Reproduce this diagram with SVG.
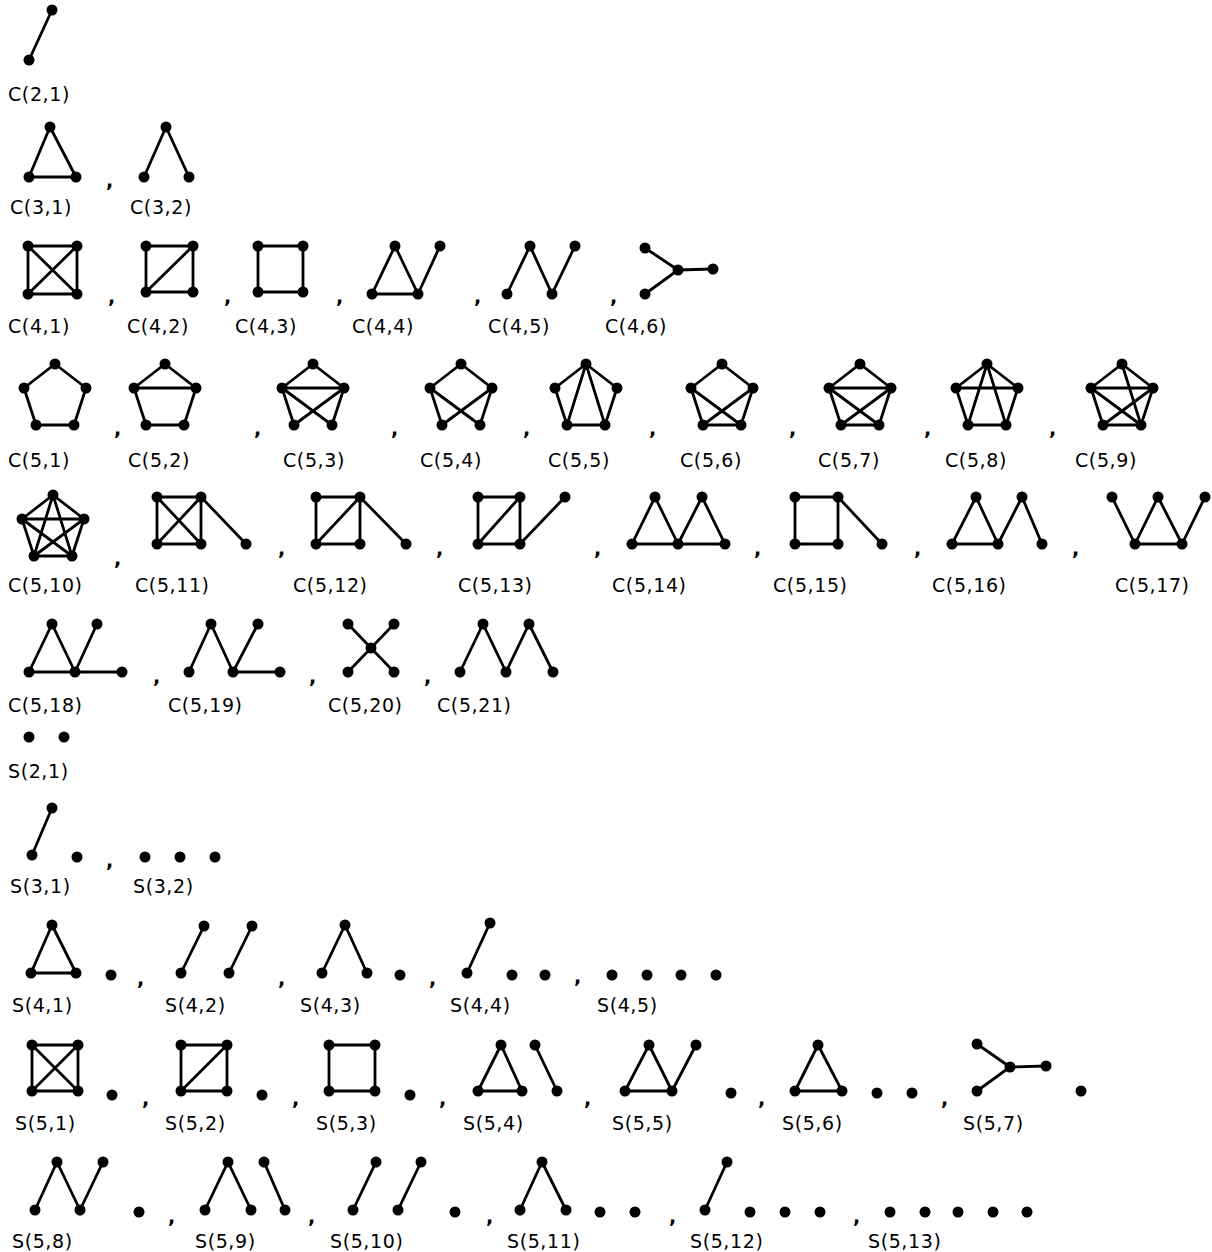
<svg xmlns="http://www.w3.org/2000/svg" width="1212" height="1252" viewBox="0 0 1212 1252">
<style>
.e{fill:none;stroke:#000;stroke-width:2.8;stroke-linecap:round;stroke-linejoin:round}
.v{fill:#000}
.l{font-family:"DejaVu Sans","Liberation Sans",sans-serif;font-size:19px;letter-spacing:0.6px;fill:#000}
.c{font-family:"DejaVu Sans","Liberation Sans",sans-serif;font-size:19px;font-weight:bold;fill:#000}
</style>
<rect width="1212" height="1252" fill="#fff"/>
<!-- C(2,1) -->
<g id="C2_1"><path class="e" d="M52 10L29 60"/><g class="v"><circle cx="52" cy="10" r="5.5"/><circle cx="29" cy="60" r="5.5"/></g><text class="l" x="8" y="101">C(2,1)</text></g>
<!-- C3 row -->
<g id="C3_1"><path class="e" d="M50 127L29 177L76 177Z"/><g class="v"><circle cx="50" cy="127" r="5.5"/><circle cx="29" cy="177" r="5.5"/><circle cx="76" cy="177" r="5.5"/></g><text class="l" x="10" y="214">C(3,1)</text></g>
<text class="c" x="106" y="187">,</text>
<g id="C3_2"><path class="e" d="M144 177L166 127L189 177"/><g class="v"><circle cx="166" cy="127" r="5.5"/><circle cx="144" cy="177" r="5.5"/><circle cx="189" cy="177" r="5.5"/></g><text class="l" x="130" y="214">C(3,2)</text></g>
<!-- C4 row -->
<g id="C4_1"><path class="e" d="M28 246H77V294H28Z M28 246L77 294 M77 246L28 294"/><g class="v"><circle cx="28" cy="246" r="5.5"/><circle cx="77" cy="246" r="5.5"/><circle cx="28" cy="294" r="5.5"/><circle cx="77" cy="294" r="5.5"/></g><text class="l" x="8" y="333">C(4,1)</text></g>
<text class="c" x="108" y="303">,</text>
<g id="C4_2"><path class="e" d="M146 246H193V292H146Z M146 292L193 246"/><g class="v"><circle cx="146" cy="246" r="5.5"/><circle cx="193" cy="246" r="5.5"/><circle cx="146" cy="292" r="5.5"/><circle cx="193" cy="292" r="5.5"/></g><text class="l" x="127" y="333">C(4,2)</text></g>
<text class="c" x="224" y="303">,</text>
<g id="C4_3"><path class="e" d="M258 246H303V292H258Z"/><g class="v"><circle cx="258" cy="246" r="5.5"/><circle cx="303" cy="246" r="5.5"/><circle cx="258" cy="292" r="5.5"/><circle cx="303" cy="292" r="5.5"/></g><text class="l" x="235" y="333">C(4,3)</text></g>
<text class="c" x="336" y="303">,</text>
<g id="C4_4"><path class="e" d="M372 294L395 246L418 294Z M418 294L440 246"/><g class="v"><circle cx="395" cy="246" r="5.5"/><circle cx="440" cy="246" r="5.5"/><circle cx="372" cy="294" r="5.5"/><circle cx="418" cy="294" r="5.5"/></g><text class="l" x="352" y="333">C(4,4)</text></g>
<text class="c" x="474" y="303">,</text>
<g id="C4_5"><path class="e" d="M507 294L530 246L552 294L575 246"/><g class="v"><circle cx="530" cy="246" r="5.5"/><circle cx="575" cy="246" r="5.5"/><circle cx="507" cy="294" r="5.5"/><circle cx="552" cy="294" r="5.5"/></g><text class="l" x="488" y="333">C(4,5)</text></g>
<text class="c" x="610" y="303">,</text>
<g id="C4_6"><path class="e" d="M645 248L678 270L645 294 M678 270L713 269"/><g class="v"><circle cx="645" cy="248" r="5.5"/><circle cx="678" cy="270" r="5.5"/><circle cx="713" cy="269" r="5.5"/><circle cx="645" cy="294" r="5.5"/></g><text class="l" x="605" y="333">C(4,6)</text></g>
<!-- C5 pentagons -->
<g id="C5_1"><path class="e" d="M55 364L86 388L74 425L36 425L24 388Z"/><g class="v"><circle cx="55" cy="364" r="5.5"/><circle cx="24" cy="388" r="5.5"/><circle cx="86" cy="388" r="5.5"/><circle cx="36" cy="425" r="5.5"/><circle cx="74" cy="425" r="5.5"/></g><text class="l" x="8" y="467">C(5,1)</text></g>
<text class="c" x="114" y="435">,</text>
<g id="C5_2"><path class="e" d="M165 364L196 388L184 425L146 425L134 388Z M134 388H196"/><g class="v"><circle cx="165" cy="364" r="5.5"/><circle cx="134" cy="388" r="5.5"/><circle cx="196" cy="388" r="5.5"/><circle cx="146" cy="425" r="5.5"/><circle cx="184" cy="425" r="5.5"/></g><text class="l" x="128" y="467">C(5,2)</text></g>
<text class="c" x="254" y="435">,</text>
<g id="C5_3"><path class="e" d="M294 425L282 388L313 364L344 388L332 425 M282 388H344 M282 388L332 425 M344 388L294 425"/><g class="v"><circle cx="313" cy="364" r="5.5"/><circle cx="282" cy="388" r="5.5"/><circle cx="344" cy="388" r="5.5"/><circle cx="294" cy="425" r="5.5"/><circle cx="332" cy="425" r="5.5"/></g><text class="l" x="283" y="467">C(5,3)</text></g>
<text class="c" x="391" y="435">,</text>
<g id="C5_4"><path class="e" d="M442 425L430 388L461 364L492 388L480 425 M430 388L480 425 M492 388L442 425"/><g class="v"><circle cx="461" cy="364" r="5.5"/><circle cx="430" cy="388" r="5.5"/><circle cx="492" cy="388" r="5.5"/><circle cx="442" cy="425" r="5.5"/><circle cx="480" cy="425" r="5.5"/></g><text class="l" x="420" y="467">C(5,4)</text></g>
<text class="c" x="523" y="435">,</text>
<g id="C5_5"><path class="e" d="M586 364L617 388L605 425L567 425L555 388Z M567 425L586 364L605 425"/><g class="v"><circle cx="586" cy="364" r="5.5"/><circle cx="555" cy="388" r="5.5"/><circle cx="617" cy="388" r="5.5"/><circle cx="567" cy="425" r="5.5"/><circle cx="605" cy="425" r="5.5"/></g><text class="l" x="548" y="467">C(5,5)</text></g>
<text class="c" x="649" y="435">,</text>
<g id="C5_6"><path class="e" d="M722 364L753 388L741 425L703 425L691 388Z M691 388L741 425 M753 388L703 425"/><g class="v"><circle cx="722" cy="364" r="5.5"/><circle cx="691" cy="388" r="5.5"/><circle cx="753" cy="388" r="5.5"/><circle cx="703" cy="425" r="5.5"/><circle cx="741" cy="425" r="5.5"/></g><text class="l" x="680" y="467">C(5,6)</text></g>
<text class="c" x="789" y="435">,</text>
<g id="C5_7"><path class="e" d="M860 364L891 388L879 425L841 425L829 388Z M829 388H891 M829 388L879 425 M891 388L841 425"/><g class="v"><circle cx="860" cy="364" r="5.5"/><circle cx="829" cy="388" r="5.5"/><circle cx="891" cy="388" r="5.5"/><circle cx="841" cy="425" r="5.5"/><circle cx="879" cy="425" r="5.5"/></g><text class="l" x="818" y="467">C(5,7)</text></g>
<text class="c" x="924" y="435">,</text>
<g id="C5_8"><path class="e" d="M987 364L1018 388L1006 425L968 425L956 388Z M956 388H1018 M968 425L987 364L1006 425"/><g class="v"><circle cx="987" cy="364" r="5.5"/><circle cx="956" cy="388" r="5.5"/><circle cx="1018" cy="388" r="5.5"/><circle cx="968" cy="425" r="5.5"/><circle cx="1006" cy="425" r="5.5"/></g><text class="l" x="945" y="467">C(5,8)</text></g>
<text class="c" x="1049" y="435">,</text>
<g id="C5_9"><path class="e" d="M1122 364L1153 388L1141 425L1103 425L1091 388Z M1091 388H1153 M1091 388L1141 425 M1153 388L1103 425 M1122 364L1141 425"/><g class="v"><circle cx="1122" cy="364" r="5.5"/><circle cx="1091" cy="388" r="5.5"/><circle cx="1153" cy="388" r="5.5"/><circle cx="1103" cy="425" r="5.5"/><circle cx="1141" cy="425" r="5.5"/></g><text class="l" x="1075" y="467">C(5,9)</text></g>
<!-- row 5 -->
<g id="C5_10"><path class="e" d="M53 495L84 519L72 556L34 556L22 519Z M22 519H84 M22 519L72 556 M84 519L34 556 M53 495L34 556 M53 495L72 556"/><g class="v"><circle cx="53" cy="495" r="5.5"/><circle cx="22" cy="519" r="5.5"/><circle cx="84" cy="519" r="5.5"/><circle cx="34" cy="556" r="5.5"/><circle cx="72" cy="556" r="5.5"/></g><text class="l" x="8" y="592">C(5,10)</text></g>
<text class="c" x="114" y="565">,</text>
<g id="C5_11"><path class="e" d="M157 497H201V544H157Z M157 497L201 544 M201 497L157 544 M201 497L246 544"/><g class="v"><circle cx="157" cy="497" r="5.5"/><circle cx="201" cy="497" r="5.5"/><circle cx="157" cy="544" r="5.5"/><circle cx="201" cy="544" r="5.5"/><circle cx="246" cy="544" r="5.5"/></g><text class="l" x="135" y="592">C(5,11)</text></g>
<text class="c" x="278" y="555">,</text>
<g id="C5_12"><path class="e" d="M316 497H360V544H316Z M316 544L360 497 M360 497L406 544"/><g class="v"><circle cx="316" cy="497" r="5.5"/><circle cx="360" cy="497" r="5.5"/><circle cx="316" cy="544" r="5.5"/><circle cx="360" cy="544" r="5.5"/><circle cx="406" cy="544" r="5.5"/></g><text class="l" x="293" y="592">C(5,12)</text></g>
<text class="c" x="436" y="555">,</text>
<g id="C5_13"><path class="e" d="M478 497H520V544H478Z M478 544L520 497 M520 544L565 497"/><g class="v"><circle cx="478" cy="497" r="5.5"/><circle cx="520" cy="497" r="5.5"/><circle cx="478" cy="544" r="5.5"/><circle cx="520" cy="544" r="5.5"/><circle cx="565" cy="497" r="5.5"/></g><text class="l" x="458" y="592">C(5,13)</text></g>
<text class="c" x="594" y="555">,</text>
<g id="C5_14"><path class="e" d="M632 544L655 497L678 544L702 497L725 544 M632 544H725"/><g class="v"><circle cx="655" cy="497" r="5.5"/><circle cx="702" cy="497" r="5.5"/><circle cx="632" cy="544" r="5.5"/><circle cx="678" cy="544" r="5.5"/><circle cx="725" cy="544" r="5.5"/></g><text class="l" x="612" y="592">C(5,14)</text></g>
<text class="c" x="754" y="555">,</text>
<g id="C5_15"><path class="e" d="M795 497H838V544H795Z M838 497L882 544"/><g class="v"><circle cx="795" cy="497" r="5.5"/><circle cx="838" cy="497" r="5.5"/><circle cx="795" cy="544" r="5.5"/><circle cx="838" cy="544" r="5.5"/><circle cx="882" cy="544" r="5.5"/></g><text class="l" x="773" y="592">C(5,15)</text></g>
<text class="c" x="914" y="555">,</text>
<g id="C5_16"><path class="e" d="M952 544L976 497L998 544L1022 497L1042 544 M952 544H998"/><g class="v"><circle cx="976" cy="497" r="5.5"/><circle cx="1022" cy="497" r="5.5"/><circle cx="952" cy="544" r="5.5"/><circle cx="998" cy="544" r="5.5"/><circle cx="1042" cy="544" r="5.5"/></g><text class="l" x="932" y="592">C(5,16)</text></g>
<text class="c" x="1072" y="555">,</text>
<g id="C5_17"><path class="e" d="M1112 497L1135 544L1158 497L1182 544L1205 497 M1135 544H1182"/><g class="v"><circle cx="1112" cy="497" r="5.5"/><circle cx="1158" cy="497" r="5.5"/><circle cx="1205" cy="497" r="5.5"/><circle cx="1135" cy="544" r="5.5"/><circle cx="1182" cy="544" r="5.5"/></g><text class="l" x="1115" y="592">C(5,17)</text></g>
<!-- row 6 -->
<g id="C5_18"><path class="e" d="M29 672L52 624L75 672L97 624 M29 672H122"/><g class="v"><circle cx="52" cy="624" r="5.5"/><circle cx="97" cy="624" r="5.5"/><circle cx="29" cy="672" r="5.5"/><circle cx="75" cy="672" r="5.5"/><circle cx="122" cy="672" r="5.5"/></g><text class="l" x="8" y="712">C(5,18)</text></g>
<text class="c" x="153" y="683">,</text>
<g id="C5_19"><path class="e" d="M189 672L211 624L233 672L258 624 M233 672H280"/><g class="v"><circle cx="211" cy="624" r="5.5"/><circle cx="258" cy="624" r="5.5"/><circle cx="189" cy="672" r="5.5"/><circle cx="233" cy="672" r="5.5"/><circle cx="280" cy="672" r="5.5"/></g><text class="l" x="168" y="712">C(5,19)</text></g>
<text class="c" x="309" y="683">,</text>
<g id="C5_20"><path class="e" d="M348 624L394 672 M394 624L348 672"/><g class="v"><circle cx="348" cy="624" r="5.5"/><circle cx="394" cy="624" r="5.5"/><circle cx="371" cy="648" r="5.5"/><circle cx="348" cy="672" r="5.5"/><circle cx="394" cy="672" r="5.5"/></g><text class="l" x="328" y="712">C(5,20)</text></g>
<text class="c" x="424" y="683">,</text>
<g id="C5_21"><path class="e" d="M460 672L483 624L506 672L529 624L553 672"/><g class="v"><circle cx="483" cy="624" r="5.5"/><circle cx="529" cy="624" r="5.5"/><circle cx="460" cy="672" r="5.5"/><circle cx="506" cy="672" r="5.5"/><circle cx="553" cy="672" r="5.5"/></g><text class="l" x="437" y="712">C(5,21)</text></g>
<!-- S section -->
<g id="S2_1"><g class="v"><circle cx="29" cy="737" r="5.5"/><circle cx="64" cy="737" r="5.5"/></g><text class="l" x="8" y="778">S(2,1)</text></g>
<g id="S3_1"><path class="e" d="M32 855L52 808"/><g class="v"><circle cx="52" cy="808" r="5.5"/><circle cx="32" cy="855" r="5.5"/><circle cx="77" cy="857" r="5.5"/></g><text class="l" x="10" y="893">S(3,1)</text></g>
<text class="c" x="106" y="867">,</text>
<g id="S3_2"><g class="v"><circle cx="145" cy="857" r="5.5"/><circle cx="180" cy="857" r="5.5"/><circle cx="215" cy="857" r="5.5"/></g><text class="l" x="133" y="893">S(3,2)</text></g>
<!-- S4 row -->
<g id="S4_1"><path class="e" d="M31 973L52 925L76 973Z"/><g class="v"><circle cx="52" cy="925" r="5.5"/><circle cx="31" cy="973" r="5.5"/><circle cx="76" cy="973" r="5.5"/><circle cx="111" cy="975" r="5.5"/></g><text class="l" x="12" y="1012">S(4,1)</text></g>
<text class="c" x="137" y="985">,</text>
<g id="S4_2"><path class="e" d="M181 973L204 926 M229 973L252 926"/><g class="v"><circle cx="204" cy="926" r="5.5"/><circle cx="181" cy="973" r="5.5"/><circle cx="252" cy="926" r="5.5"/><circle cx="229" cy="973" r="5.5"/></g><text class="l" x="165" y="1012">S(4,2)</text></g>
<text class="c" x="278" y="985">,</text>
<g id="S4_3"><path class="e" d="M322 973L345 925L367 973"/><g class="v"><circle cx="345" cy="925" r="5.5"/><circle cx="322" cy="973" r="5.5"/><circle cx="367" cy="973" r="5.5"/><circle cx="400" cy="975" r="5.5"/></g><text class="l" x="300" y="1012">S(4,3)</text></g>
<text class="c" x="429" y="985">,</text>
<g id="S4_4"><path class="e" d="M467 973L490 923"/><g class="v"><circle cx="490" cy="923" r="5.5"/><circle cx="467" cy="973" r="5.5"/><circle cx="512" cy="975" r="5.5"/><circle cx="545" cy="975" r="5.5"/></g><text class="l" x="450" y="1012">S(4,4)</text></g>
<text class="c" x="574" y="983">,</text>
<g id="S4_5"><g class="v"><circle cx="612" cy="975" r="5.5"/><circle cx="647" cy="975" r="5.5"/><circle cx="681" cy="975" r="5.5"/><circle cx="716" cy="975" r="5.5"/></g><text class="l" x="597" y="1012">S(4,5)</text></g>
<!-- S5 row A -->
<g id="S5_1"><path class="e" d="M32 1045H78V1091H32Z M32 1045L78 1091 M78 1045L32 1091"/><g class="v"><circle cx="32" cy="1045" r="5.5"/><circle cx="78" cy="1045" r="5.5"/><circle cx="32" cy="1091" r="5.5"/><circle cx="78" cy="1091" r="5.5"/><circle cx="112" cy="1095" r="5.5"/></g><text class="l" x="15" y="1130">S(5,1)</text></g>
<text class="c" x="142" y="1105">,</text>
<g id="S5_2"><path class="e" d="M181 1045H227V1091H181Z M181 1091L227 1045"/><g class="v"><circle cx="181" cy="1045" r="5.5"/><circle cx="227" cy="1045" r="5.5"/><circle cx="181" cy="1091" r="5.5"/><circle cx="227" cy="1091" r="5.5"/><circle cx="262" cy="1095" r="5.5"/></g><text class="l" x="165" y="1130">S(5,2)</text></g>
<text class="c" x="292" y="1105">,</text>
<g id="S5_3"><path class="e" d="M329 1045H375V1091H329Z"/><g class="v"><circle cx="329" cy="1045" r="5.5"/><circle cx="375" cy="1045" r="5.5"/><circle cx="329" cy="1091" r="5.5"/><circle cx="375" cy="1091" r="5.5"/><circle cx="410" cy="1095" r="5.5"/></g><text class="l" x="316" y="1130">S(5,3)</text></g>
<text class="c" x="439" y="1105">,</text>
<g id="S5_4"><path class="e" d="M478 1091L501 1045L522 1091Z M535 1045L557 1091"/><g class="v"><circle cx="501" cy="1045" r="5.5"/><circle cx="478" cy="1091" r="5.5"/><circle cx="522" cy="1091" r="5.5"/><circle cx="535" cy="1045" r="5.5"/><circle cx="557" cy="1091" r="5.5"/></g><text class="l" x="463" y="1130">S(5,4)</text></g>
<text class="c" x="584" y="1105">,</text>
<g id="S5_5"><path class="e" d="M625 1091L649 1045L672 1091Z M672 1091L696 1045"/><g class="v"><circle cx="649" cy="1045" r="5.5"/><circle cx="696" cy="1045" r="5.5"/><circle cx="625" cy="1091" r="5.5"/><circle cx="672" cy="1091" r="5.5"/><circle cx="731" cy="1093" r="5.5"/></g><text class="l" x="612" y="1130">S(5,5)</text></g>
<text class="c" x="758" y="1105">,</text>
<g id="S5_6"><path class="e" d="M795 1091L818 1045L842 1091Z"/><g class="v"><circle cx="818" cy="1045" r="5.5"/><circle cx="795" cy="1091" r="5.5"/><circle cx="842" cy="1091" r="5.5"/><circle cx="877" cy="1093" r="5.5"/><circle cx="912" cy="1093" r="5.5"/></g><text class="l" x="782" y="1130">S(5,6)</text></g>
<text class="c" x="941" y="1105">,</text>
<g id="S5_7"><path class="e" d="M977 1044L1010 1067L977 1091 M1010 1067L1046 1066"/><g class="v"><circle cx="977" cy="1044" r="5.5"/><circle cx="1010" cy="1067" r="5.5"/><circle cx="1046" cy="1066" r="5.5"/><circle cx="977" cy="1091" r="5.5"/><circle cx="1081" cy="1091" r="5.5"/></g><text class="l" x="963" y="1130">S(5,7)</text></g>
<!-- S5 row B -->
<g id="S5_8"><path class="e" d="M35 1210L57 1162L80 1210L103 1162"/><g class="v"><circle cx="57" cy="1162" r="5.5"/><circle cx="103" cy="1162" r="5.5"/><circle cx="35" cy="1210" r="5.5"/><circle cx="80" cy="1210" r="5.5"/><circle cx="139" cy="1212" r="5.5"/></g><text class="l" x="12" y="1248">S(5,8)</text></g>
<text class="c" x="168" y="1223">,</text>
<g id="S5_9"><path class="e" d="M205 1210L228 1162L251 1210 M264 1162L285 1210"/><g class="v"><circle cx="228" cy="1162" r="5.5"/><circle cx="205" cy="1210" r="5.5"/><circle cx="251" cy="1210" r="5.5"/><circle cx="264" cy="1162" r="5.5"/><circle cx="285" cy="1210" r="5.5"/></g><text class="l" x="195" y="1248">S(5,9)</text></g>
<text class="c" x="308" y="1223">,</text>
<g id="S5_10"><path class="e" d="M353 1210L376 1162 M398 1210L421 1162"/><g class="v"><circle cx="376" cy="1162" r="5.5"/><circle cx="353" cy="1210" r="5.5"/><circle cx="421" cy="1162" r="5.5"/><circle cx="398" cy="1210" r="5.5"/><circle cx="455" cy="1212" r="5.5"/></g><text class="l" x="330" y="1248">S(5,10)</text></g>
<text class="c" x="486" y="1223">,</text>
<g id="S5_11"><path class="e" d="M520 1210L542 1162L566 1210"/><g class="v"><circle cx="542" cy="1162" r="5.5"/><circle cx="520" cy="1210" r="5.5"/><circle cx="566" cy="1210" r="5.5"/><circle cx="600" cy="1212" r="5.5"/><circle cx="635" cy="1212" r="5.5"/></g><text class="l" x="507" y="1248">S(5,11)</text></g>
<text class="c" x="669" y="1223">,</text>
<g id="S5_12"><path class="e" d="M705 1210L727 1162"/><g class="v"><circle cx="727" cy="1162" r="5.5"/><circle cx="705" cy="1210" r="5.5"/><circle cx="750" cy="1212" r="5.5"/><circle cx="785" cy="1212" r="5.5"/><circle cx="820" cy="1212" r="5.5"/></g><text class="l" x="690" y="1248">S(5,12)</text></g>
<text class="c" x="853" y="1223">,</text>
<g id="S5_13"><g class="v"><circle cx="890" cy="1212" r="5.5"/><circle cx="925" cy="1212" r="5.5"/><circle cx="958" cy="1212" r="5.5"/><circle cx="993" cy="1212" r="5.5"/><circle cx="1027" cy="1212" r="5.5"/></g><text class="l" x="868" y="1248">S(5,13)</text></g>
</svg>
